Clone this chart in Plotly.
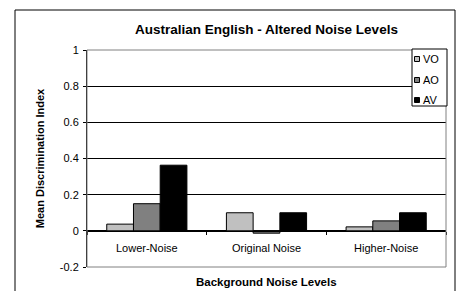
import plotly.graph_objects as go

categories = ["Lower-Noise", "Original Noise", "Higher-Noise"]
series_names = ["VO", "AO", "AV"]
vo_values = [0.037, 0.10, 0.022]
ao_values = [0.15, -0.013, 0.055]
av_values = [0.363, 0.10, 0.10]
y_ticks = [-0.2, 0, 0.2, 0.4, 0.6, 0.8, 1]
y_tick_labels = ["-0.2", "0", "0.2", "0.4", "0.6", "0.8", "1"]

colors = ["#C0C0C0", "#808080", "#000000"]
FONT = "Arial, Liberation Sans, sans-serif"

fig = go.Figure()
for name, vals, col in zip(series_names, [vo_values, ao_values, av_values], colors):
    fig.add_trace(go.Bar(x=categories, y=vals, name=name,
                         marker=dict(color=col, line=dict(color="black", width=1))))

W, H = 456, 291
L, R, T, B = 87, 10, 50, 24
PW, PH = W - L - R, H - T - B
ymin, ymax = -0.2, 1.0
zero_frac = (0 - ymin) / (ymax - ymin)


def px(x):
    return (x - L) / PW


def py(y):
    return (H - B - y) / PH


fig.update_layout(
    width=W, height=H,
    margin=dict(l=L, r=R, t=T, b=B, autoexpand=False),
    paper_bgcolor="white", plot_bgcolor="white",
    font=dict(family=FONT, size=11, color="black"),
    barmode="group", bargap=0.33, bargroupgap=0,
    title=dict(text="<b>Australian English - Altered Noise Levels</b>",
               x=0.5, xref="paper", y=1 - 29 / H, yref="container",
               xanchor="center", yanchor="middle",
               font=dict(family=FONT, size=13.5, color="black")),
    xaxis=dict(anchor="free", position=zero_frac, showline=True, linecolor="black",
               linewidth=1, ticks="outside", tickson="boundaries", ticklen=3,
               tickcolor="black", showgrid=False, zeroline=False,
               tickfont=dict(size=11), ticklabelstandoff=7),
    yaxis=dict(range=[ymin, ymax], tickvals=y_ticks, ticktext=y_tick_labels,
               showline=True, linecolor="black", linewidth=1, ticks="outside",
               ticklen=3, tickcolor="black", showgrid=True, gridcolor="#000000",
               gridwidth=1, zeroline=False, tickfont=dict(size=11),
               ticklabelstandoff=2,
               title=dict(text="<b>Mean Discrimination Index</b>",
                          font=dict(size=11), standoff=12)),
    showlegend=False,
)

# plot area border
fig.add_shape(type="rect", xref="paper", yref="paper", x0=0, x1=1, y0=0, y1=1,
              line=dict(color="#808080", width=1), layer="above")
# outer chart border
fig.add_shape(type="rect", xref="paper", yref="paper",
              x0=px(15), x1=px(455), y0=py(300), y1=py(10),
              line=dict(color="black", width=1))

fig.add_annotation(text="<b>Background Noise Levels</b>", xref="paper", yref="paper",
                   x=0.5, y=0, yshift=-15, xanchor="center", yanchor="middle",
                   showarrow=False, font=dict(size=11.5, family=FONT))

# legend (box, swatches, labels)
fig.add_shape(type="rect", xref="paper", yref="paper",
              x0=px(412), x1=px(447), y0=py(106), y1=py(49),
              line=dict(color="black", width=1), fillcolor="white", layer="above")
legend_rows = [59, 80, 100]
for name, col, yc in zip(series_names, colors, legend_rows):
    fig.add_shape(type="rect", xref="paper", yref="paper",
                  x0=px(414.5), x1=px(419.5), y0=py(yc + 2.5), y1=py(yc - 2.5),
                  line=dict(color="black", width=1), fillcolor=col, layer="above")
    fig.add_annotation(text=name, xref="paper", yref="paper", x=px(421), y=py(yc),
                       xanchor="left", yanchor="middle", showarrow=False,
                       font=dict(size=11, family=FONT))

fig.write_html("out.html", config={"displayModeBar": False},
               post_script="document.body.style.margin='0';document.body.style.overflow='hidden';")
